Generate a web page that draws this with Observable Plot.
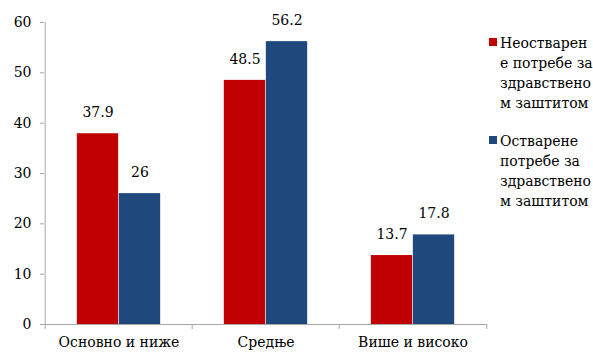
<!DOCTYPE html>
<html>
<head>
<meta charset="utf-8">
<script src="https://cdn.jsdelivr.net/npm/d3@7"></script>
<script src="https://cdn.jsdelivr.net/npm/@observablehq/plot@0.6"></script>
<style>
  body { margin: 0; background: #fff; }
  #chart { position: relative; width: 593px; height: 354px; font-family: "DejaVu Serif", serif; }
  #legend { position: absolute; left: 489px; top: 33px; font-size: 14px; line-height: 20px; color: #000; }
  .item { display: flex; align-items: flex-start; margin-bottom: 18px; }
  .sw { width: 8px; height: 8px; margin-top: 5px; margin-right: 3px; flex: none; }
  .txt { white-space: nowrap; }
</style>
</head>
<body>
<div id="chart"></div>
<script>
// Education level groups
const categories = ["Основно и ниже", "Средње", "Више и високо"];
// Series
const seriesNames = [
  "Неостварене потребе за здравственом заштитом",
  "Остварене потребе за здравственом заштитом"
];
// Legend text, wrapped the way it is printed
const legendLines = [
  ["Неостварен", "е потребе за", "здравствено", "м заштитом"],
  ["Остварене", "потребе за", "здравствено", "м заштитом"]
];
const unmet = [37.9, 48.5, 13.7];
const met = [26, 56.2, 17.8];
const yTicks = [0, 10, 20, 30, 40, 50, 60];
const colors = ["#C00000", "#1F497D"];

const W = 593, H = 354;
const mL = 44, mR = 106, mT = 22, mB = 30;
const step = (W - mL - mR) / categories.length;
const barW = 42;
const pad = (step - 2 * barW) / 2;
const labelLift = 21;
const axisGray = "#a6a6a6";

const rowsA = categories.map((c, i) => ({category: c, series: seriesNames[0], value: unmet[i]}));
const rowsB = categories.map((c, i) => ({category: c, series: seriesNames[1], value: met[i]}));

const plot = Plot.plot({
  width: W,
  height: H,
  marginLeft: mL,
  marginRight: mR,
  marginTop: mT,
  marginBottom: mB,
  style: {fontFamily: "DejaVu Serif", fontSize: "14px", background: "white", color: "black"},
  x: {domain: categories, padding: 0},
  y: {domain: [0, 60]},
  color: {domain: seriesNames, range: colors},
  marks: [
    Plot.barY(rowsA, {x: "category", y: "value", fill: "series", insetLeft: pad, insetRight: pad + barW}),
    Plot.barY(rowsB, {x: "category", y: "value", fill: "series", insetLeft: pad + barW, insetRight: pad}),
    Plot.text(rowsA, {x: "category", y: "value", text: d => String(d.value), dx: -barW / 2, dy: -labelLift, fill: "black"}),
    Plot.text(rowsB, {x: "category", y: "value", text: d => String(d.value), dx: barW / 2, dy: -labelLift, fill: "black"}),
    Plot.ruleY([0], {stroke: axisGray}),
    // vertical axis line
    Plot.tickX([categories[0]], {x: d => d, dx: -step / 2, stroke: axisGray}),
    // group separators below the baseline
    Plot.tickX(categories, {x: d => d, dx: -step / 2, insetTop: H - mT - mB, insetBottom: -5, stroke: axisGray}),
    Plot.tickX([categories[categories.length - 1]], {x: d => d, dx: step / 2, insetTop: H - mT - mB, insetBottom: -5, stroke: axisGray}),
    Plot.axisY({ticks: yTicks, tickSize: 4, tickPadding: 9, stroke: axisGray, fill: "black", label: null}),
    Plot.axisX({tickSize: 0, tickPadding: 13, fill: "black", label: null})
  ]
});

const chart = document.getElementById("chart");
chart.appendChild(plot);

const legend = document.createElement("div");
legend.id = "legend";
legendLines.forEach((lines, i) => {
  const item = document.createElement("div");
  item.className = "item";
  const sw = document.createElement("div");
  sw.className = "sw";
  sw.style.background = colors[i];
  const txt = document.createElement("div");
  txt.className = "txt";
  txt.innerHTML = lines.join("<br>");
  item.appendChild(sw);
  item.appendChild(txt);
  legend.appendChild(item);
});
chart.appendChild(legend);
</script>
</body>
</html>
